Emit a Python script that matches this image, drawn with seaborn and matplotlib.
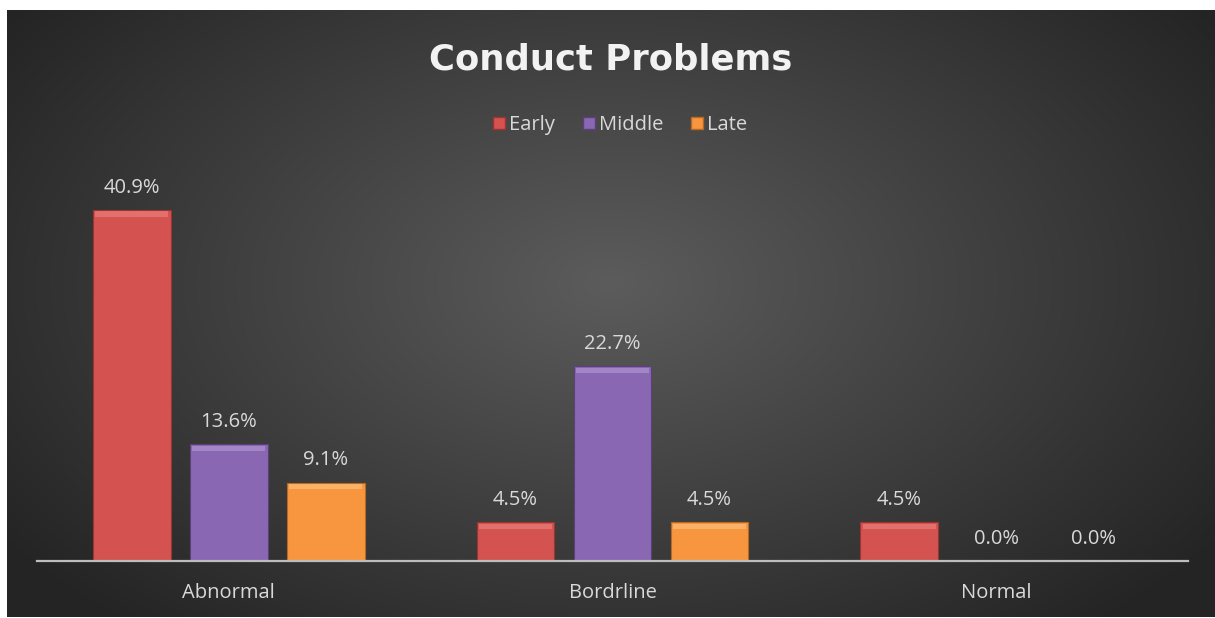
import numpy as np
import pandas as pd
import matplotlib
matplotlib.use("Agg")
import matplotlib.pyplot as plt
import seaborn as sns
from matplotlib.patches import Rectangle
from matplotlib.lines import Line2D

categories = ["Abnormal", "Bordrline", "Normal"]
groups = ["Early", "Middle", "Late"]
early = [40.9, 4.5, 4.5]
middle = [13.6, 22.7, 0.0]
late = [9.1, 4.5, 0.0]
title = "Conduct Problems"

colors = {"Early": "#d4524f", "Middle": "#8a67b3", "Late": "#f7963e"}
edges = {"Early": "#9c3432", "Middle": "#5a417a", "Late": "#b86a22"}
highlights = {"Early": "#ee8a87", "Middle": "#b9a0da", "Late": "#ffc88a"}

df = pd.DataFrame({
    "category": categories * 3,
    "group": ["Early"] * 3 + ["Middle"] * 3 + ["Late"] * 3,
    "value": early + middle + late,
})

sns.set_theme(style="white")
plt.rcParams['font.family'] = ['Open Sans', 'DejaVu Sans']

W, H = 1215, 618
fig = plt.figure(figsize=(W / 100, H / 100), dpi=100, facecolor="white")

# background panel with radial gradient
bgax = fig.add_axes([7 / W, 1 / H, 1 - 7 / W, 1 - 11 / H])
ny, nx = 300, 600
yy, xx = np.mgrid[0:1:ny * 1j, 0:1:nx * 1j]
r = np.sqrt(((xx - 0.5) / 0.62) ** 2 + ((yy - 0.45) / 0.75) ** 2)
r = np.clip(r, 0, 1)
c0 = np.array([0x5c, 0x5c, 0x5c]) / 255
c1 = np.array([0x24, 0x24, 0x24]) / 255
img = c0[None, None, :] * (1 - r[..., None]) + c1[None, None, :] * r[..., None]
bgax.imshow(img, aspect="auto", extent=[0, 1, 0, 1], origin="upper")
bgax.set_axis_off()

ax = fig.add_axes([37 / W, 1 - 561 / H, (1188 - 37) / W, (561 - 160) / H])
ax.patch.set_alpha(0)
sns.barplot(data=df, x="category", y="value", hue="group", order=categories,
            hue_order=groups, palette=colors, width=0.758, gap=0.2,
            ax=ax, legend=False, saturation=1)

ax.set_ylim(0, 401 / 8.58)
ax.set_xlim(-0.5, 2.5)

# style bars: edges and top highlight bevel
for container, g in zip(ax.containers, groups):
    for bar in container:
        bar.set_edgecolor(edges[g])
        bar.set_linewidth(0.8)
        h = bar.get_height()
        if h > 0:
            x0 = bar.get_x()
            w = bar.get_width()
            hh = min(h, 1.0)
            ax.add_patch(Rectangle((x0 + w * 0.03, h - hh * 0.75), w * 0.94, hh * 0.6,
                                   facecolor=highlights[g], edgecolor="none",
                                   alpha=0.55, zorder=bar.get_zorder() + 0.1))
    ax.bar_label(container, labels=[f"{v:.1f}%" for v in container.datavalues],
                 padding=9, color="#d9d9d9", fontsize=14.5)

ax.set_xlabel("")
ax.set_ylabel("")
ax.set_yticks([])
ax.tick_params(axis="x", length=0, pad=16, labelsize=14.5, labelcolor="#d9d9d9")
for s in ["top", "right", "left"]:
    ax.spines[s].set_visible(False)
ax.spines["bottom"].set_color("#bdbdbd")
ax.spines["bottom"].set_linewidth(1.6)

# title
fig.text(611 / W, 1 - 59 / H, title, ha="center", va="center", fontsize=25.5,
         fontweight="bold", color="#f2f2f2", family=["DejaVu Sans"])

# legend
handles = [Line2D([], [], marker="s", linestyle="none", markersize=8.5,
                  markerfacecolor=colors[g], markeredgecolor=edges[g], label=g)
           for g in groups]
fig.legend(handles=handles, loc="center", bbox_to_anchor=(618 / W, 1 - 125 / H),
           ncol=3, frameon=False, fontsize=14.5, labelcolor="#d9d9d9",
           handletextpad=0.0, columnspacing=1.2, handlelength=1.0)

fig.savefig("out.png", dpi=100, facecolor="white")
